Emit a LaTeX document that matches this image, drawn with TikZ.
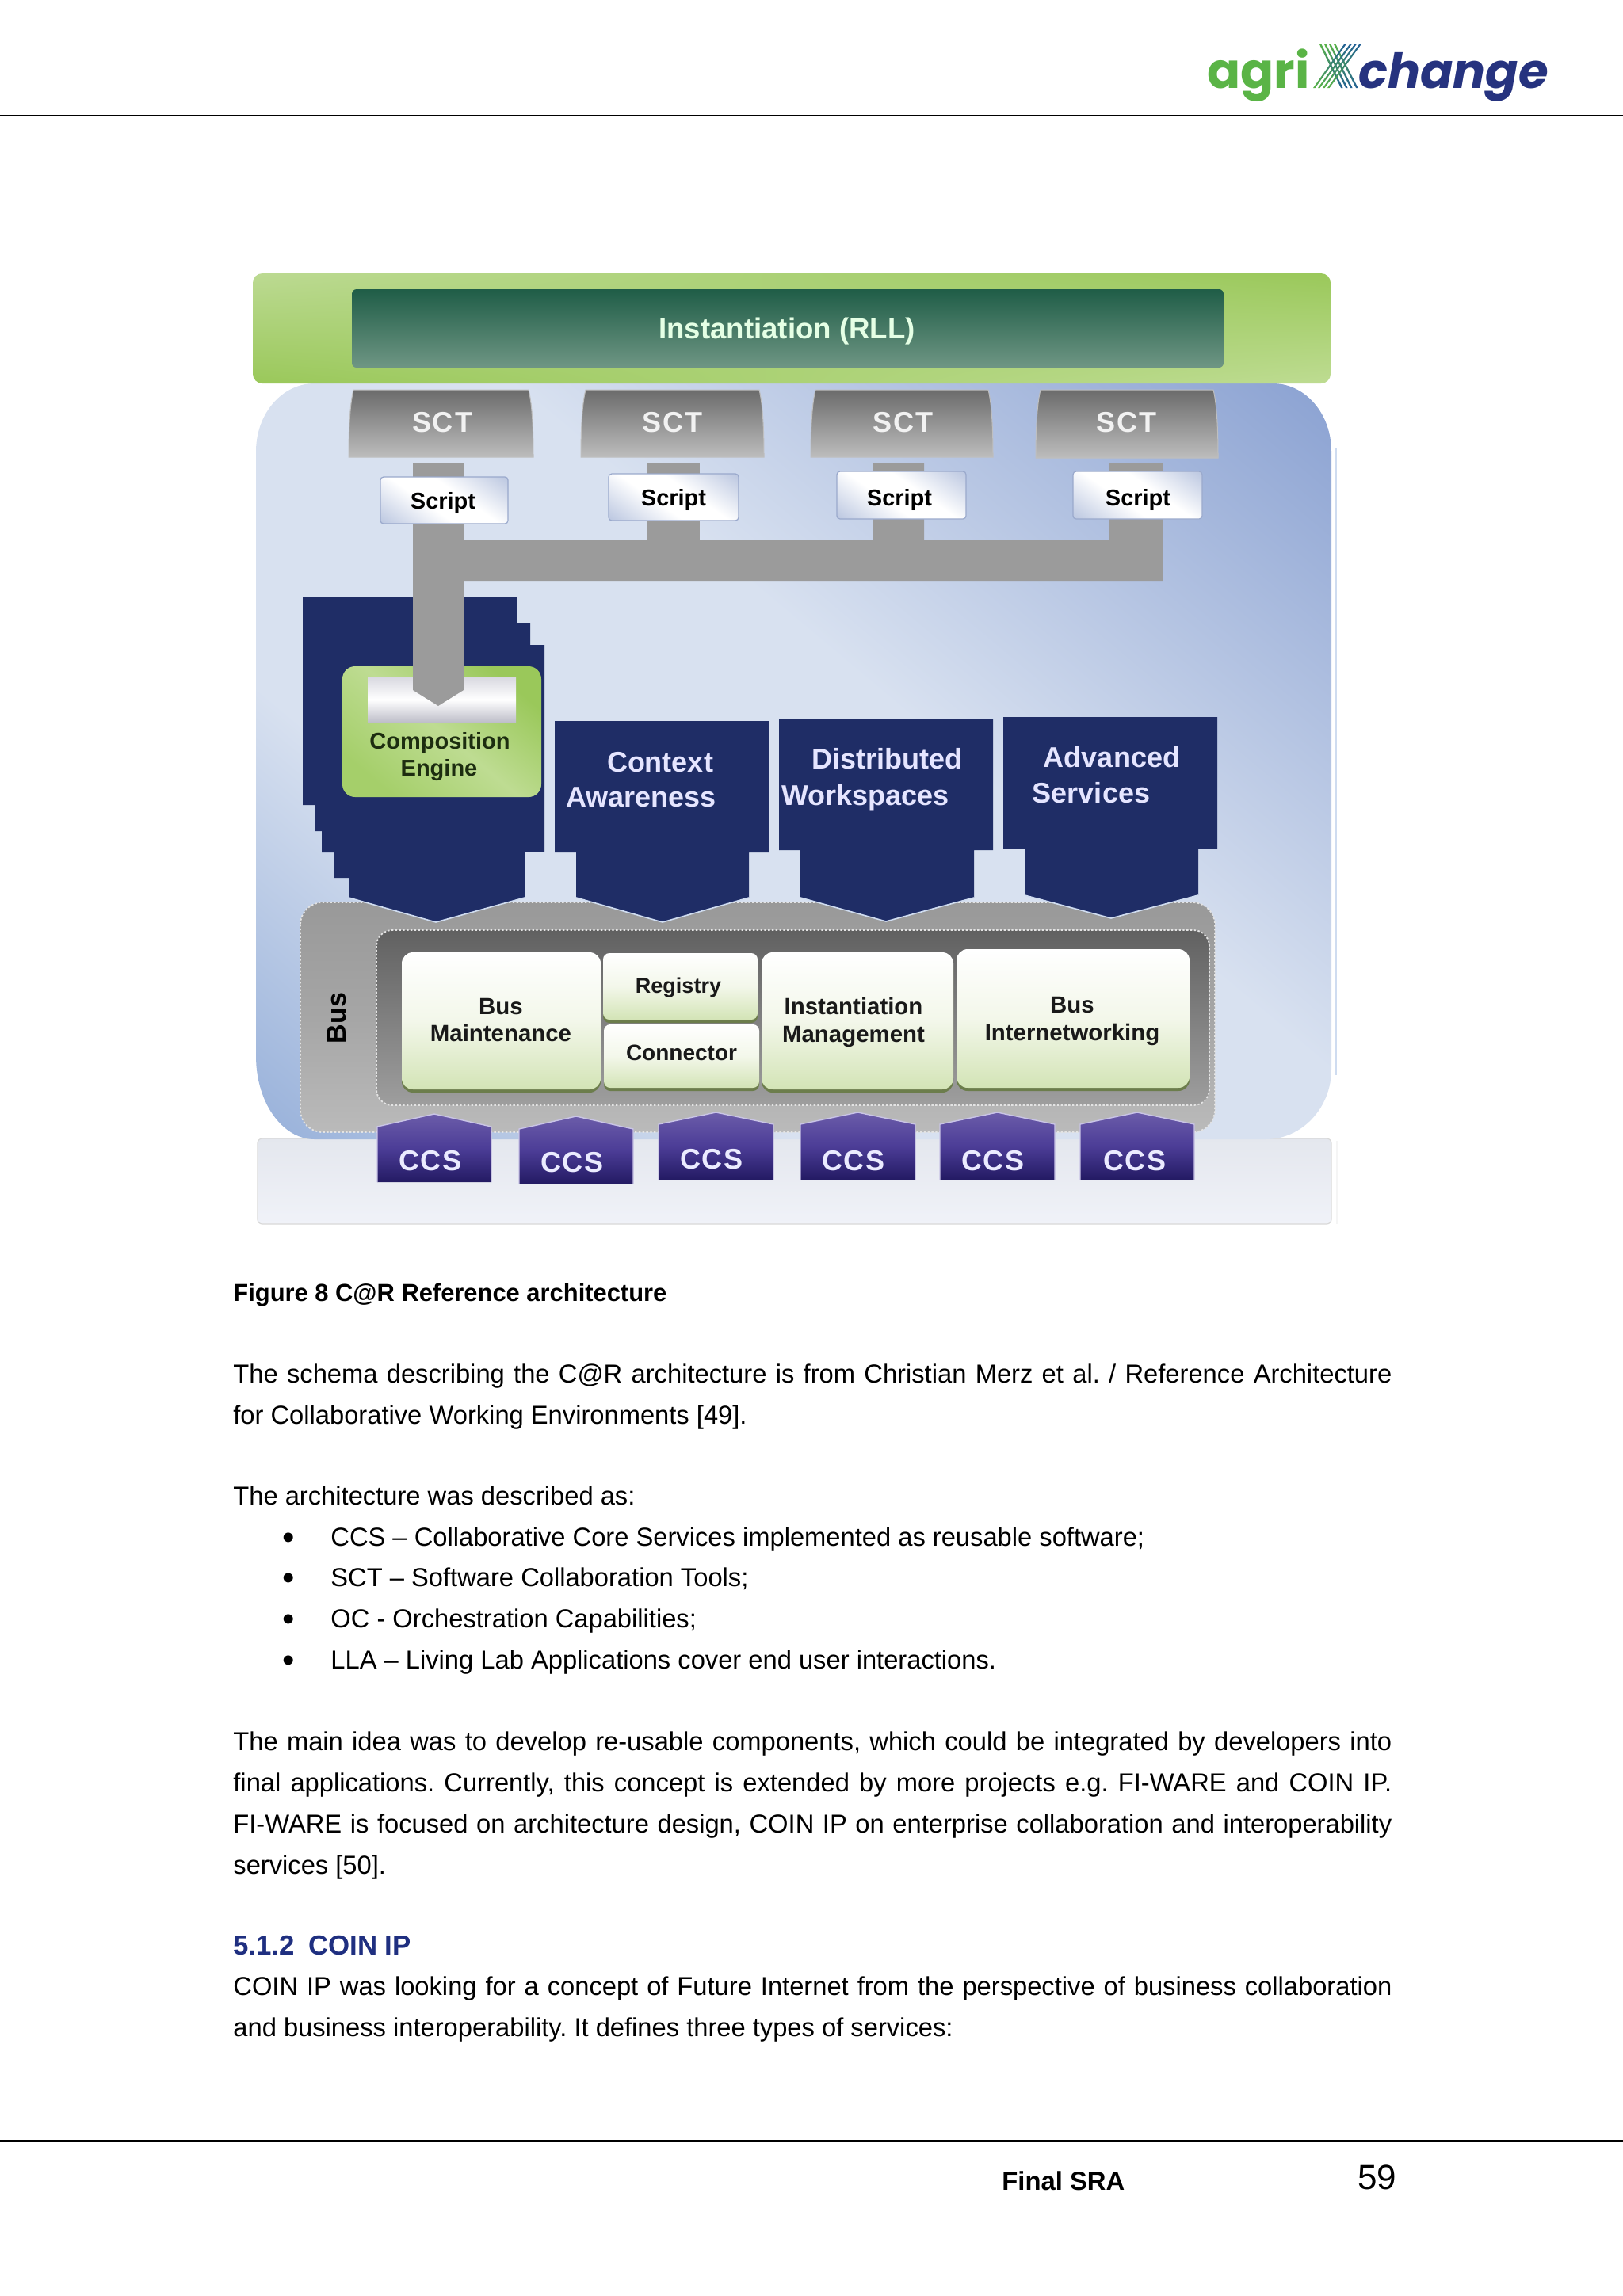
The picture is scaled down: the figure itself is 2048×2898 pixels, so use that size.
\documentclass[tikz,border=0pt]{standalone}
\usepackage{fontspec}
\setmainfont{Liberation Sans}
\newfontfamily\logofont{Poppins}
\usetikzlibrary{shadings}
\AtBeginDocument{\frenchspacing}
\definecolor{navy}{HTML}{1F2D66}
\definecolor{conn}{HTML}{9B9B9B}
\definecolor{headblue}{HTML}{1F2F80}
\definecolor{greenA}{HTML}{9AC85A}
\definecolor{greenB}{HTML}{BEDC92}
\definecolor{edgeblue}{HTML}{CFDCF0}
\definecolor{HTMLpalemid}{HTML}{F3F7EA}
\definecolor{HTMLpalebot}{HTML}{D3E4B6}
\definecolor{HTMLshadow}{HTML}{6C7D4C}
\definecolor{HTMLscr}{HTML}{BFCAE2}
\definecolor{HTMLscredge}{HTML}{9AA9CC}
\definecolor{HTMLccsA}{HTML}{6B5CA9}
\definecolor{HTMLccsB}{HTML}{4C3D97}
\definecolor{HTMLccsC}{HTML}{231A63}
\definecolor{HTMLccsE}{HTML}{C9C4E6}
\definecolor{HTMLlogoG}{HTML}{5AB446}
\definecolor{HTMLlogoB}{HTML}{26337F}
\definecolor{HTMLplatA}{HTML}{E4E7EE}
\definecolor{HTMLplatB}{HTML}{F0F2F8}
\definecolor{HTMLmainA}{HTML}{8BA2D2}
\definecolor{HTMLmainB}{HTML}{D8E1F0}
\definecolor{HTMLmainC}{HTML}{98B1DA}
\definecolor{HTMLbandA}{HTML}{BCDA92}
\definecolor{HTMLbarA}{HTML}{1F5D47}
\definecolor{HTMLbarB}{HTML}{6F9684}
\definecolor{HTMLcompC}{HTML}{A5CF6A}
\definecolor{HTMLwhA}{HTML}{D8D8E0}
\definecolor{HTMLwhB}{HTML}{BDBDC8}
\definecolor{HTMLdarkgr}{HTML}{1D2D10}
\pgfdeclareverticalshading{mainsh}{100bp}{color(0bp)=(HTMLmainC); color(15bp)=(HTMLmainC); color(34bp)=(HTMLmainB); color(56bp)=(HTMLmainB); color(85bp)=(HTMLmainA); color(100bp)=(HTMLmainA)}
\pgfdeclareverticalshading{scrsh}{100bp}{color(0bp)=(HTMLscr); color(17bp)=(HTMLscr); color(42bp)=(white); color(58bp)=(white); color(83bp)=(HTMLscr); color(100bp)=(HTMLscr)}
\tikzset{
  x=0.5pt,y=-0.5pt,
  lbl/.style={inner sep=0pt,anchor=base,align=center},
  bodytxt/.style={inner sep=0pt,anchor=base west},
  navyshape/.style={fill=navy},
  connshape/.style={fill=conn},
  tipedge/.style={draw=edgeblue,line width=0.8pt},
  palegreen/.style={top color=white,bottom color=HTMLpalebot,middle color=HTMLpalemid,rounded corners=#1},
  shadowbox/.style={fill=HTMLshadow,rounded corners=#1},
  dotedge/.style={draw=white!78!gray,line width=0.9pt,dash pattern=on 1.2pt off 1.2pt},
}
% #1 name, #2 cx, #3 cy, #4 size in pt, #5 colour, #6 text
\newcommand{\lblbf}[6]{\node[lbl,text=#5] (#1) at (#2,{#3+0.72*#4}) {\fontsize{#4}{#4}\selectfont\bfseries #6};}
\newcommand{\jline}[3]{\node[bodytxt] (#1) at (294,#2) {\fontsize{16.35}{16.35}\selectfont\makebox[731pt][s]{#3}};}
\newcommand{\pline}[4][294]{\node[bodytxt] (#2) at (#1,#3) {\fontsize{16.35}{16.35}\selectfont #4};}
% SCT: name x1 x2 y1 y2 labelx
\newcommand{\sct}[6]{%
  \shade[top color=black!58,bottom color=black!26,draw=black!25,line width=0.5pt]
   ({#2+6},#4) -- ({#3-6},#4) .. controls ({#3-3},{#4+12}) and ({#3},{#4+35}) .. (#3,#5) -- (#2,#5) .. controls (#2,{#4+35}) and ({#2+3},{#4+12}) .. ({#2+6},#4) -- cycle;
  \lblbf{#1}{#6}{533}{18}{white!90!gray}{S\kern1pt C\kern1pt T}
}
% Script: name x1 x2 y1 y2 labelx labely
\newcommand{\scr}[7]{%
  \shade[shading=scrsh,shading angle=-35,draw=HTMLscredge,line width=0.6pt,rounded corners=2pt] (#2,#4) rectangle (#3,#5);
  \lblbf{#1}{#6}{#7}{14.5}{black}{Script}
}
% CCS: name x1 x2 apexy shouldery bottomy labelx labely
\newcommand{\ccs}[8]{%
  \shade[top color=HTMLccsA,bottom color=HTMLccsC,middle color=HTMLccsB]
    (#2,#6) -- (#2,#5) -- ({(#2+#3)/2},#4) -- (#3,#5) -- (#3,#6) -- cycle;
  \draw[draw=HTMLccsE,line width=0.7pt] (#2,#6) -- (#2,#5) -- ({(#2+#3)/2},#4) -- (#3,#5) -- (#3,#6);
  \lblbf{#1}{#7}{#8}{18}{white!92!blue}{C\kern0.8pt C\kern0.8pt S}
}
\begin{document}
\begin{tikzpicture}
\useasboundingbox (0,0) rectangle (2048,2898);
\fill[white] (0,0) rectangle (2048,2898);
% page rules
\draw[black,line width=1.2pt] (0,146) -- (2048,146);
\draw[black,line width=1.2pt] (0,2702) -- (2048,2702);
% logo
\node[inner sep=0pt,anchor=base west,text=HTMLlogoG] (logoA) at (1523,111) {\logofont\fontsize{31}{31}\selectfont\bfseries agri};
\node[inner sep=0pt,anchor=base west,text=HTMLlogoB] (logoB) at (1714,111) {\logofont\fontsize{30.5}{30.5}\selectfont\bfseries\itshape change};
\foreach \ta/\ba in {1665/1692,1671/1698,1677/1704,1683/1711,1696/1657,1703/1663,1709/1669,1715/1675}{
  \shade[left color=HTMLlogoG,right color=HTMLlogoB!80!cyan] (\ta,56) -- ({\ta+2.6},56) -- ({\ba+2.6},111) -- (\ba,111) -- cycle;
}
% platform
\fill[black!4] (1686,1440) rectangle (1689,1545);
\shade[top color=HTMLplatA,bottom color=HTMLplatB,draw=black!15,line width=0.6pt,rounded corners=3pt] (325,1437) rectangle (1680,1545);
% main blue panel
\draw[edgeblue,line width=0.7pt] (1686,565) -- (1686,1357);
\shade[shading=mainsh,shading angle=-40]
 (397,484) -- (1606,484) .. controls (1647,484) and (1680,522) .. (1680,570) -- (1680,1350)
 .. controls (1680,1398) and (1643,1438) .. (1597,1438) -- (397,1438)
 .. controls (356,1438) and (323,1391) .. (323,1333) -- (323,570)
 .. controls (323,522) and (356,484) .. (397,484) -- cycle;
% green band
\shade[upper left=HTMLbandA,upper right=greenA,lower left=greenA,lower right=greenB,rounded corners=6pt] (319,345) rectangle (1679,484);
\shade[top color=HTMLbarA,bottom color=HTMLbarB,rounded corners=3pt] (444,365) rectangle (1544,464);
\lblbf{rll}{993}{414}{18.3}{white!90!green}{Instantiation (RLL)}
% bus
\shade[top color=black!40,bottom color=black!27,middle color=black!35,rounded corners=14pt] (379,1139) rectangle (1533,1429);
\draw[dotedge,rounded corners=14pt] (379,1139) rectangle (1533,1429);
\shade[top color=black!62,bottom color=black!38,rounded corners=10pt] (475,1174) rectangle (1526,1395);
\draw[dotedge,rounded corners=10pt] (475,1174) rectangle (1526,1395);
\node[inner sep=0pt,rotate=90,anchor=center] (buslbl) at (425,1285) {\fontsize{17}{17}\selectfont\bfseries Bus};
% grey connectors
\fill[connshape] (585,681) -- (1102,681) -- (1102,584) -- (1166,584) -- (1166,681) -- (1400,681) -- (1400,584) -- (1467,584) -- (1467,733) -- (585,733) -- cycle;
\fill[connshape] (816,584) rectangle (883,690);
% pale boxes
\fill[shadowbox=7pt] (507,1206) rectangle (758,1379);
\shade[palegreen=7pt] (507,1202) rectangle (758,1375);
\fill[shadowbox=4pt] (761,1207) rectangle (956,1291);
\shade[palegreen=4pt] (761,1203) rectangle (956,1287);
\fill[shadowbox=4pt] (762,1297) rectangle (958,1377);
\shade[palegreen=4pt] (762,1293) rectangle (958,1373);
\fill[shadowbox=7pt] (961,1206) rectangle (1203,1379);
\shade[palegreen=7pt] (961,1202) rectangle (1203,1375);
\fill[shadowbox=7pt] (1207,1202) rectangle (1501,1377);
\shade[palegreen=7pt] (1207,1198) rectangle (1501,1373);
\lblbf{bm1}{632}{1270}{14.7}{black!90}{Bus}
\lblbf{bm2}{632}{1304}{14.7}{black!90}{Maintenance}
\lblbf{reg}{856}{1244}{13.5}{black!90}{Registry}
\lblbf{con}{860}{1328}{14}{black!90}{Connector}
\lblbf{im1}{1077}{1270}{14.7}{black!90}{Instantiation}
\lblbf{im2}{1077}{1305}{14.7}{black!90}{Management}
\lblbf{bi1}{1353}{1268}{14.7}{black!90}{Bus}
\lblbf{bi2}{1353}{1303}{14.7}{black!90}{Internetworking}
% navy stack
\fill[navyshape] (382,753) -- (652,753) -- (652,786) -- (669,786) -- (669,814) -- (687,814) -- (687,1075) -- (662,1075) -- (662,1133) -- (550,1164) -- (440,1133) -- (440,1108) -- (422,1108) -- (422,1076) -- (406,1076) -- (406,1049) -- (398,1049) -- (398,1016) -- (382,1016) -- cycle;
\draw[tipedge] (440,1133) -- (550,1164) -- (662,1133);
\fill[navyshape] (700,910) -- (970,910) -- (970,1076) -- (945,1076) -- (945,1133) -- (836,1164) -- (727,1133) -- (727,1076) -- (700,1076) -- cycle;
\draw[tipedge] (727,1133) -- (836,1164) -- (945,1133);
\fill[navyshape] (983,908) -- (1253,908) -- (1253,1073) -- (1229,1073) -- (1229,1133) -- (1118,1163) -- (1010,1133) -- (1010,1073) -- (983,1073) -- cycle;
\draw[tipedge] (1010,1133) -- (1118,1163) -- (1229,1133);
\fill[navyshape] (1266,905) -- (1536,905) -- (1536,1071) -- (1512,1071) -- (1512,1130) -- (1402,1159) -- (1293,1130) -- (1293,1071) -- (1266,1071) -- cycle;
\draw[tipedge] (1293,1130) -- (1402,1159) -- (1512,1130);
\lblbf{ctx1}{833}{962}{18}{white!90!blue}{Context}
\lblbf{ctx2}{809}{1006}{18}{white!90!blue}{Awareness}
\lblbf{dis1}{1119}{958}{18}{white!90!blue}{Distributed}
\lblbf{dis2}{1092}{1004}{18}{white!90!blue}{Workspaces}
\lblbf{adv1}{1403}{956}{18}{white!90!blue}{Advanced}
\lblbf{adv2}{1377}{1001}{18}{white!90!blue}{Services}
% composition engine
\shade[top color=greenA,bottom color=HTMLcompC,middle color=greenB,shading angle=-40,rounded corners=8pt] (432,841) rectangle (683,1006);
\shade[top color=HTMLwhA,bottom color=HTMLwhB,middle color=white] (464,854) rectangle (651,912);
\lblbf{ce1}{555}{935}{14.5}{HTMLdarkgr}{Composition}
\lblbf{ce2}{554}{969}{14.5}{HTMLdarkgr}{Engine}
% first connector with point
\fill[connshape] (521,584) -- (585,584) -- (585,871) -- (553,891) -- (521,871) -- cycle;
% SCT and scripts
\sct{sct1}{440}{673}{492}{577}{558}
\sct{sct2}{733}{964}{492}{577}{848}
\sct{sct3}{1023}{1253}{492}{577}{1139}
\sct{sct4}{1307}{1537}{492}{578}{1421}
\scr{scr1}{480}{641}{602}{661}{559}{632}
\scr{scr2}{768}{932}{598}{657}{850}{628}
\scr{scr3}{1056}{1219}{595}{655}{1135}{628}
\scr{scr4}{1354}{1517}{595}{655}{1436}{628}
% CCS
\ccs{ccs1}{476}{620}{1406}{1422}{1492}{543}{1465}
\ccs{ccs2}{655}{799}{1409}{1425}{1494}{722}{1467}
\ccs{ccs3}{831}{976}{1404}{1419}{1489}{898}{1463}
\ccs{ccs4}{1010}{1155}{1404}{1419}{1489}{1077}{1465}
\ccs{ccs5}{1186}{1331}{1404}{1419}{1489}{1253}{1465}
\ccs{ccs6}{1363}{1507}{1404}{1419}{1489}{1432}{1465}
% page text
\node[bodytxt] (cap) at (294,1642) {\fontsize{15.45}{15.45}\selectfont\bfseries Figure 8 C@R Reference architecture};
\jline{t1}{1745}{The schema describing the C@R architecture is from Christian Merz et al. / Reference Architecture}
\pline{t2}{1797}{for Collaborative Working Environments [49].}
\pline{t3}{1899}{The architecture was described as:}
\foreach \yy/\nn in {1951/ba,2002/bb,2054/bc,2106/bd}{\node[bodytxt] (\nn) at (356,\yy) {\fontsize{22}{22}\selectfont\raisebox{-2pt}{•}};}
\pline[417]{l1}{1951}{CCS – Collaborative Core Services implemented as reusable software;}
\pline[417]{l2}{2002}{SCT – Software Collaboration Tools;}
\pline[417]{l3}{2054}{OC - Orchestration Capabilities;}
\pline[417]{l4}{2106}{LLA – Living Lab Applications cover end user interactions.}
\jline{p1}{2209}{The main idea was to develop re-usable components, which could be integrated by developers into}
\jline{p2}{2261}{final applications. Currently, this concept is extended by more projects e.g. FI-WARE and COIN IP.}
\jline{p3}{2313}{FI-WARE is focused on architecture design, COIN IP on enterprise collaboration and interoperability}
\pline{p4}{2365}{services [50].}
\node[bodytxt,text=headblue] (sec) at (294,2467) {\fontsize{17.4}{17.4}\selectfont\bfseries 5.1.2\hspace{0.5em}COIN IP};
\jline{c1}{2518}{COIN IP was looking for a concept of Future Internet from the perspective of business collaboration}
\pline{c2}{2570}{and business interoperability. It defines three types of services:}
\node[bodytxt] (fin) at (1264,2764) {\fontsize{16.4}{16.4}\selectfont\bfseries Final SRA};
\node[bodytxt] (pg) at (1713,2763) {\fontsize{22}{22}\selectfont 59};
\end{tikzpicture}
\end{document}
